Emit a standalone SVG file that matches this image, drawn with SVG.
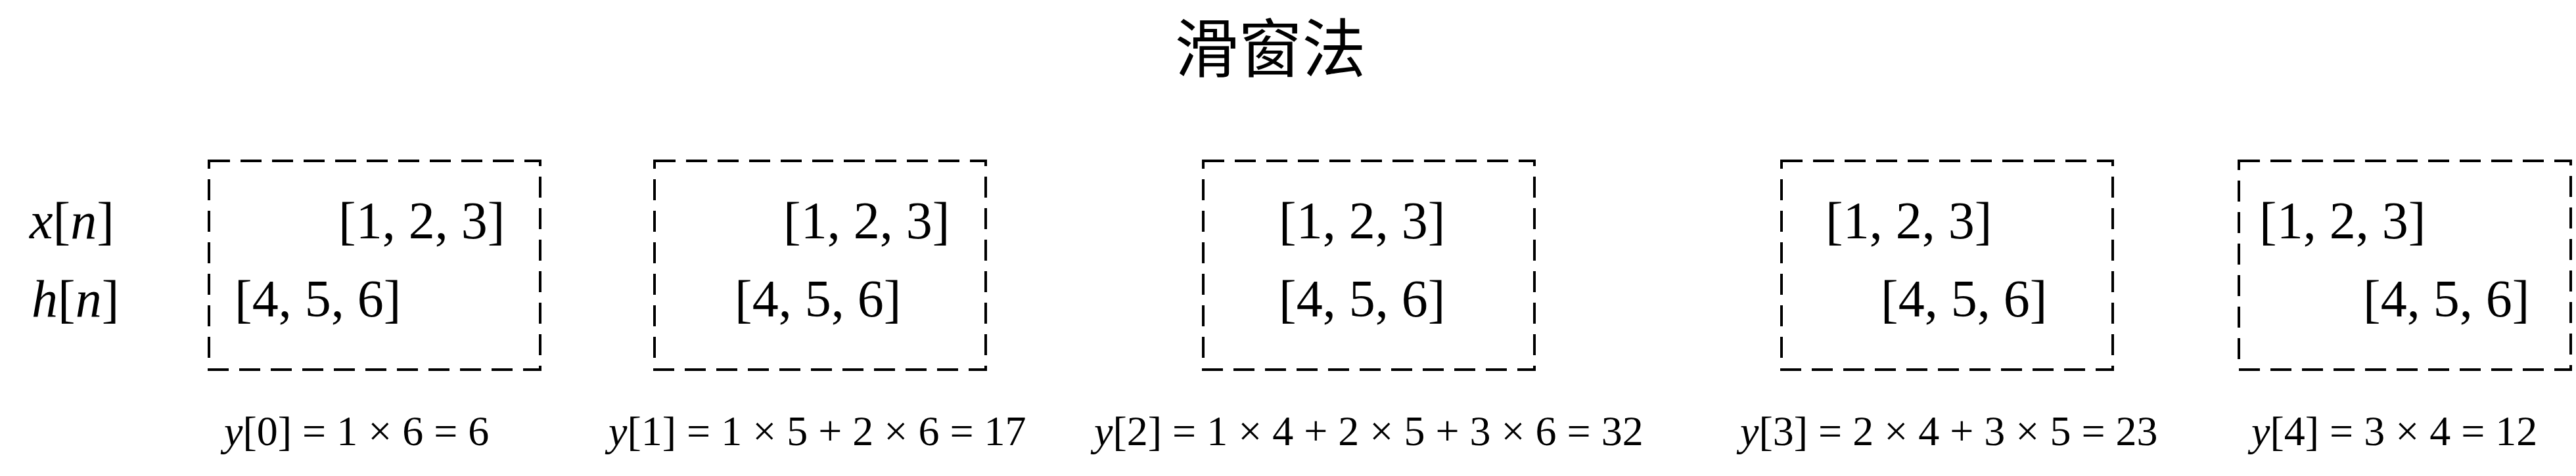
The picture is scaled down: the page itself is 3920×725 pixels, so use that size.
<svg xmlns="http://www.w3.org/2000/svg" width="3920" height="725" viewBox="0 0 3920 725">
<style>
  .t { font-family: "Liberation Serif", "Times New Roman", serif; fill: #000; }
  .big { font-size: 80px; }
  .eq { font-size: 64px; }
  .i { font-style: italic; }
  .title { font-family: "Noto Sans CJK SC", "Noto Sans", sans-serif; font-size: 97px; fill: #000; }
  .win { fill: none; stroke: #000; stroke-width: 4; stroke-dasharray: 32 16; }
</style>
<rect width="3920" height="725" fill="#fff"/>
<g id="title">
  <text class="title" x="1933" y="109" text-anchor="middle">滑窗法</text>
</g>
<g id="labels">
  <text class="t big" x="45" y="363"><tspan class="i">x</tspan>[<tspan class="i">n</tspan>]</text>
  <text class="t big" x="48" y="482"><tspan class="i">h</tspan>[<tspan class="i">n</tspan>]</text>
</g>
<g id="window0">
  <rect class="win" x="318" y="245" width="504" height="318"/>
  <text class="t big" x="515" y="363">[1, 2, 3]</text>
  <text class="t big" x="357" y="482">[4, 5, 6]</text>
</g>
<g id="window1">
  <rect class="win" x="996" y="245" width="504" height="318"/>
  <text class="t big" x="1192" y="363">[1, 2, 3]</text>
  <text class="t big" x="1118" y="482">[4, 5, 6]</text>
</g>
<g id="window2">
  <rect class="win" x="1831" y="245" width="504" height="318"/>
  <text class="t big" x="1946" y="363">[1, 2, 3]</text>
  <text class="t big" x="1946" y="482">[4, 5, 6]</text>
</g>
<g id="window3">
  <rect class="win" x="2711" y="245" width="504" height="318"/>
  <text class="t big" x="2778" y="363">[1, 2, 3]</text>
  <text class="t big" x="2862" y="482">[4, 5, 6]</text>
</g>
<g id="window4">
  <rect class="win" x="3407" y="245" width="505" height="318"/>
  <text class="t big" x="3438" y="363">[1, 2, 3]</text>
  <text class="t big" x="3596" y="482">[4, 5, 6]</text>
</g>
<g id="equations">
  <text class="t eq" x="341" y="678"><tspan class="i">y</tspan>[0] = 1 × 6 = 6</text>
  <text class="t eq" x="926" y="678"><tspan class="i">y</tspan>[1] = 1 × 5 + 2 × 6 = 17</text>
  <text class="t eq" x="1665" y="678"><tspan class="i">y</tspan>[2] = 1 × 4 + 2 × 5 + 3 × 6 = 32</text>
  <text class="t eq" x="2648" y="678"><tspan class="i">y</tspan>[3] = 2 × 4 + 3 × 5 = 23</text>
  <text class="t eq" x="3426" y="678"><tspan class="i">y</tspan>[4] = 3 × 4 = 12</text>
</g>
</svg>
